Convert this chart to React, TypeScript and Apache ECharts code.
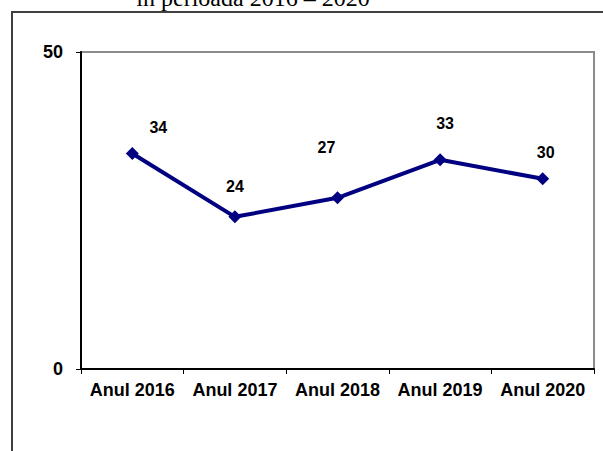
import React, { useEffect, useRef } from "react";
import * as echarts from "echarts";

const categories = ["Anul 2016", "Anul 2017", "Anul 2018", "Anul 2019", "Anul 2020"];
const values = [34, 24, 27, 33, 30];
const yTicks = [0, 50];
const titleText = "în perioada 2016 – 2020";

// label placement (style only)
const labelOffsets: [number, number][] = [
  [26, -26],
  [0, -30],
  [-11, -50],
  [5, -36],
  [3, -26],
];

const SANS = "'Liberation Sans', Arial, sans-serif";
const SERIF = "'Liberation Serif', 'Times New Roman', serif";

export default function App() {
  const ref = useRef<HTMLDivElement>(null);
  useEffect(() => {
    document.body.style.margin = "0";
    if (!ref.current) return;
    const chart = echarts.init(ref.current, undefined, { renderer: "svg" });
    chart.setOption({
      animation: false,
      backgroundColor: "#ffffff",
      grid: {
        left: 81,
        top: 52,
        right: 9,
        bottom: 82,
        show: true,
        borderColor: "#8c8c8c",
        borderWidth: 2,
        backgroundColor: "transparent",
      },
      graphic: [
        {
          type: "rect",
          shape: { x: 12, y: 12, width: 800, height: 800 },
          style: { fill: "none", stroke: "#404040", lineWidth: 2 },
          z: -1,
        },
        {
          type: "text",
          x: 253,
          y: -2,
          style: {
            text: titleText,
            fontFamily: SERIF,
            fontSize: 24,
            fill: "#000000",
            align: "center",
            verticalAlign: "middle",
          },
        },
      ],
      xAxis: {
        type: "category",
        data: categories,
        boundaryGap: true,
        axisLine: { show: true, lineStyle: { color: "#000000", width: 2 } },
        axisTick: { show: true, inside: false, length: 5, alignWithLabel: false, lineStyle: { color: "#000000", width: 1 } },
        axisLabel: {
          interval: 0,
          hideOverlap: false,
          color: "#000000",
          fontFamily: SANS,
          fontWeight: "bold",
          fontSize: 18,
          margin: 12,
        },
        splitLine: { show: false },
      },
      yAxis: {
        type: "value",
        min: yTicks[0],
        max: yTicks[yTicks.length - 1],
        interval: yTicks[1] - yTicks[0],
        axisLine: { show: true, lineStyle: { color: "#000000", width: 2 } },
        axisTick: { show: true, inside: false, length: 5, lineStyle: { color: "#000000", width: 1 } },
        axisLabel: {
          color: "#000000",
          fontFamily: SANS,
          fontWeight: "bold",
          fontSize: 18,
          margin: 18,
        },
        splitLine: { show: false },
      },
      series: [
        {
          type: "line",
          data: values.map((v, i) => ({
            value: v,
            label: { offset: labelOffsets[i] },
          })),
          color: "#000080",
          lineStyle: { color: "#000080", width: 4 },
          itemStyle: { color: "#000080" },
          symbol: "diamond",
          symbolSize: 13,
          showSymbol: true,
          label: {
            show: true,
            position: "inside",
            color: "#000000",
            fontFamily: SANS,
            fontWeight: "bold",
            fontSize: 16,
            align: "center",
            verticalAlign: "middle",
          },
        },
      ],
    });
    return () => chart.dispose();
  }, []);
  return (
    <div
      ref={ref}
      style={{ position: "absolute", left: 0, top: 0, width: 603, height: 451 }}
    />
  );
}
